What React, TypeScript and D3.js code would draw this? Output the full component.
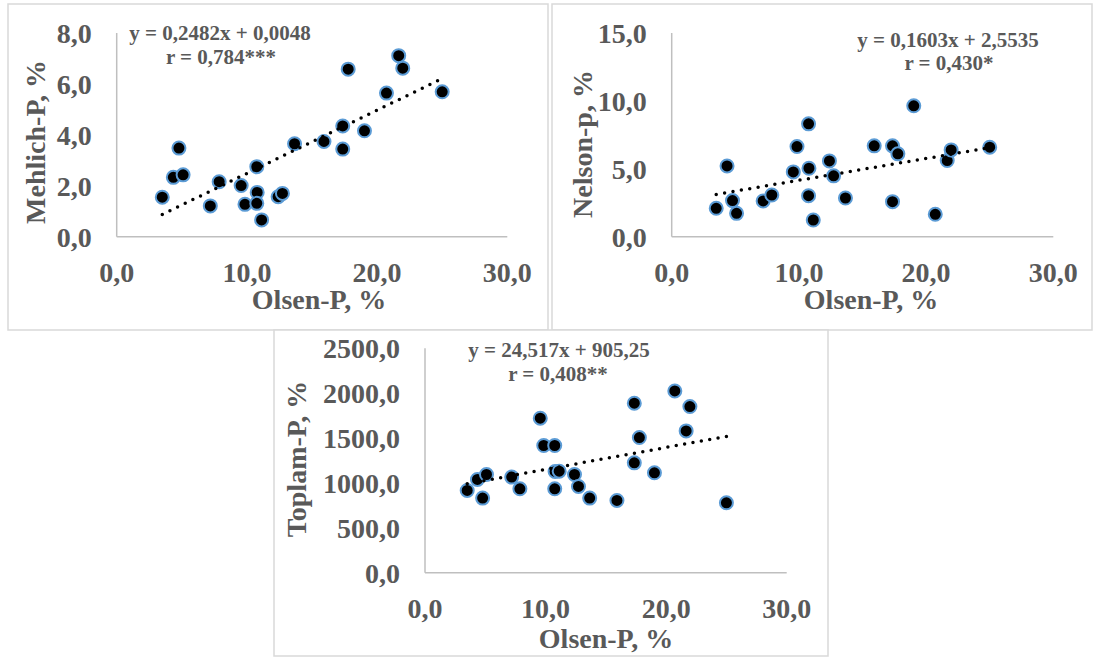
import React from "react";
import * as d3 from "d3";

// ---- data ----
const olsenP = [3.5, 4.35, 4.78, 5.1, 7.19, 7.87, 9.56, 9.85, 10.76, 10.79, 10.76, 11.13, 12.4, 12.73, 13.66, 15.92, 17.36, 17.36, 17.78, 19.03, 20.72, 21.66, 21.97, 25.0];
const mehlichP = [1.55, 2.33, 3.48, 2.43, 1.21, 2.16, 2.01, 1.27, 2.75, 1.74, 1.31, 0.66, 1.57, 1.7, 3.65, 3.74, 4.35, 3.44, 6.58, 4.16, 5.64, 7.11, 6.62, 5.69];
const nelsonP = [2.09, 5.21, 2.66, 1.72, 2.63, 3.07, 4.77, 6.64, 8.31, 5.04, 3.02, 1.23, 5.58, 4.48, 2.85, 6.69, 6.69, 2.58, 6.1, 9.64, 1.65, 5.61, 6.39, 6.59];
const toplamP = [916, 1039, 831, 1094, 1065, 935, 1721, 1417, 1417, 1128, 935, 1131, 1094, 961, 831, 805, 1888, 1224, 1506, 1113, 2025, 1580, 1851, 779];

const xTicks = [0, 10, 20, 30];
const mehlichTicks = [0, 2, 4, 6, 8];
const nelsonTicks = [0, 5, 10, 15];
const toplamTicks = [0, 500, 1000, 1500, 2000, 2500];

const xTitle = "Olsen-P, %";
const yTitles = ["Mehlich-P, %", "Nelson-p, %", "Toplam-P, %"];
const equations = ["y = 0,2482x + 0,0048", "y = 0,1603x + 2,5535", "y = 24,517x + 905,25"];
const rLabels = ["r = 0,784***", "r = 0,430*", "r = 0,408**"];
const slopes = [0.2482, 0.1603, 24.517];
const intercepts = [0.0048, 2.5535, 905.25];

// ---- layout ----
const FONT = "'Times New Roman', 'Liberation Serif', serif";
const TEXT = "#595959";

type Panel = {
  box: [number, number, number, number];
  plot: { x0: number; x1: number; yTop: number; yBot: number };
  yVals: number[];
  yTicks: number[];
  yTitle: string;
  yTitlePos: [number, number];
  xTitlePos: [number, number];
  eq: string;
  r: string;
  eqPos: [number, number];
  rPos: [number, number];
  slope: number;
  intercept: number;
};

const panels: Panel[] = [
  {
    box: [8, 4, 548, 330],
    plot: { x0: 116.7, x1: 507.3, yTop: 33, yBot: 236.7 },
    yVals: mehlichP,
    yTicks: mehlichTicks,
    yTitle: yTitles[0],
    yTitlePos: [35, 142],
    xTitlePos: [319, 299],
    eq: equations[0],
    r: rLabels[0],
    eqPos: [220, 33],
    rPos: [221, 57],
    slope: slopes[0],
    intercept: intercepts[0],
  },
  {
    box: [552, 4, 1092, 330],
    plot: { x0: 671.7, x1: 1053.3, yTop: 33, yBot: 236.7 },
    yVals: nelsonP,
    yTicks: nelsonTicks,
    yTitle: yTitles[1],
    yTitlePos: [582, 144],
    xTitlePos: [871, 299],
    eq: equations[1],
    r: rLabels[1],
    eqPos: [948, 40],
    rPos: [949, 63],
    slope: slopes[1],
    intercept: intercepts[1],
  },
  {
    box: [274, 330, 828, 656],
    plot: { x0: 425, x1: 786.7, yTop: 348.3, yBot: 572.7 },
    yVals: toplamP,
    yTicks: toplamTicks,
    yTitle: yTitles[2],
    yTitlePos: [296, 459],
    xTitlePos: [606, 638],
    eq: equations[2],
    r: rLabels[2],
    eqPos: [559, 350],
    rPos: [558, 374],
    slope: slopes[2],
    intercept: intercepts[2],
  },
];

const fmt = (v: number) => d3.format(".1f")(v).replace(".", ",");

function ScatterPanel({ p }: { p: Panel }) {
  const { plot } = p;
  const x = d3.scaleLinear().domain([0, 30]).range([plot.x0, plot.x1]);
  const yMax = p.yTicks[p.yTicks.length - 1];
  const y = d3.scaleLinear().domain([0, yMax]).range([plot.yBot, plot.yTop]);
  const [xmin, xmax] = d3.extent(olsenP) as [number, number];
  const line = d3
    .line<number>()
    .x((d) => x(d))
    .y((d) => y(p.slope * d + p.intercept));
  const [bx0, by0, bx1, by1] = p.box;
  return (
    <g>
      <rect x={bx0} y={by0} width={bx1 - bx0} height={by1 - by0} fill="#fff" stroke="#d9d9d9" strokeWidth={1.5} />
      {/* axes */}
      <line x1={plot.x0} x2={plot.x0} y1={plot.yTop} y2={plot.yBot} stroke="#bfbfbf" strokeWidth={1.5} />
      <line x1={plot.x0} x2={plot.x1} y1={plot.yBot} y2={plot.yBot} stroke="#bfbfbf" strokeWidth={1.5} />
      {/* y tick labels */}
      {p.yTicks.map((t) => (
        <text key={"y" + t} x={plot.x0 - 25} y={y(t)} dy="0.35em" textAnchor="end" fontFamily={FONT} fontWeight="bold" fontSize={28} fill={TEXT}>
          {fmt(t)}
        </text>
      ))}
      {/* x tick labels */}
      {xTicks.map((t) => (
        <text key={"x" + t} x={x(t)} y={plot.yBot + 35} dy="0.35em" textAnchor="middle" fontFamily={FONT} fontWeight="bold" fontSize={28} fill={TEXT}>
          {fmt(t)}
        </text>
      ))}
      {/* titles */}
      <text x={p.xTitlePos[0]} y={p.xTitlePos[1]} dy="0.35em" textAnchor="middle" fontFamily={FONT} fontWeight="bold" fontSize={28} fill={TEXT}>
        {xTitle}
      </text>
      <text
        transform={`translate(${p.yTitlePos[0]},${p.yTitlePos[1]}) rotate(-90)`}
        dy="0.35em"
        textAnchor="middle"
        fontFamily={FONT}
        fontWeight="bold"
        fontSize={28}
        fill={TEXT}
      >
        {p.yTitle}
      </text>
      {/* points */}
      {olsenP.map((xv, i) => (
        <circle key={i} cx={x(xv)} cy={y(p.yVals[i])} r={6.5} fill="#000" stroke="#5B9BD5" strokeWidth={2} />
      ))}
      {/* trendline */}
      <path d={line([xmin, xmax]) || ""} fill="none" stroke="#000" strokeWidth={3.5} strokeLinecap="round" strokeDasharray="0 8.5" />
      {/* equation */}
      <text x={p.eqPos[0]} y={p.eqPos[1]} dy="0.35em" textAnchor="middle" fontFamily={FONT} fontWeight="bold" fontSize={21} fill={TEXT}>
        {p.eq}
      </text>
      <text x={p.rPos[0]} y={p.rPos[1]} dy="0.35em" textAnchor="middle" fontFamily={FONT} fontWeight="bold" fontSize={21} fill={TEXT}>
        {p.r}
      </text>
    </g>
  );
}

export default function App() {
  return (
    <svg width={1093} height={657} style={{ position: "absolute", left: 0, top: 0, background: "#fff" }}>
      <rect x={0} y={0} width={1093} height={657} fill="#fff" />
      {panels.map((p, i) => (
        <ScatterPanel key={i} p={p} />
      ))}
    </svg>
  );
}
